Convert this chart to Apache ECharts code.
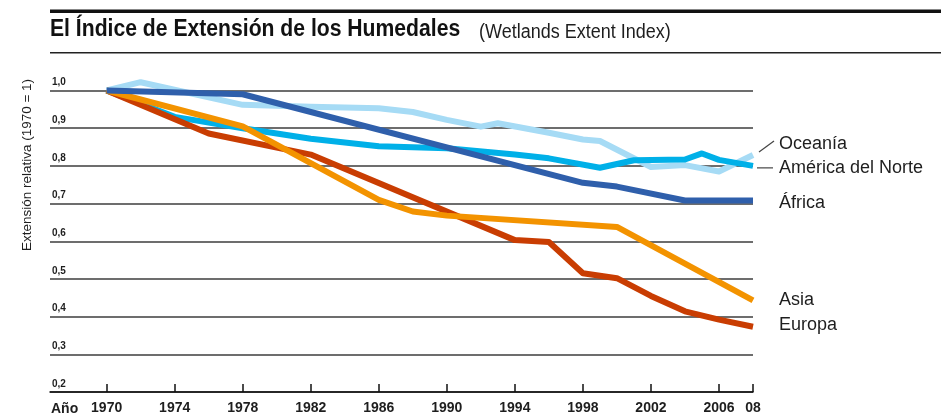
<!DOCTYPE html>
<html>
<head>
<meta charset="utf-8">
<script src="https://cdn.jsdelivr.net/npm/echarts@6.0.0/dist/echarts.min.js"></script>
<style>
html,body{margin:0;padding:0;background:#fff}
#main{width:941px;height:417px}
</style>
</head>
<body>
<div id="main"></div>
<script>
// valores (índice relativo, 1970 = 1)
const tickYears = [1970, 1974, 1978, 1982, 1986, 1990, 1994, 1998, 2002, 2006, 2008];

const oceaniaYears = [1970, 1972, 1978, 1982, 1986, 1988, 1990, 1992, 1993, 1996, 1998, 1999, 2002, 2004, 2006, 2008];
const oceaniaValues = [1.0, 1.022, 0.962, 0.957, 0.953, 0.943, 0.922, 0.904, 0.913, 0.888, 0.87, 0.866, 0.797, 0.802, 0.785, 0.829];

const americaYears = [1970, 1974, 1978, 1982, 1986, 1990, 1994, 1996, 1999, 2001, 2004, 2005, 2006, 2008];
const americaValues = [1.0, 0.93, 0.90, 0.872, 0.852, 0.847, 0.83, 0.82, 0.795, 0.815, 0.817, 0.833, 0.816, 0.80];

const africaYears = [1970, 1978, 1998, 2000, 2004, 2008];
const africaValues = [1.0, 0.99, 0.755, 0.745, 0.708, 0.708];

const asiaYears = [1970, 1978, 1986, 1988, 1990, 2000, 2008];
const asiaValues = [1.0, 0.905, 0.71, 0.679, 0.668, 0.638, 0.443];

const europaYears = [1970, 1976, 1982, 1994, 1996, 1998, 2000, 2002, 2004, 2006, 2008];
const europaValues = [1.0, 0.886, 0.83, 0.603, 0.598, 0.515, 0.502, 0.455, 0.414, 0.392, 0.373];

const FONT = '"Liberation Sans", Arial, sans-serif';
const chart = echarts.init(document.getElementById('main'));

function makeSeries(name, years, values, color, dy, z) {
    return {
        name: name,
        type: 'line',
        data: years.map((y, i) => [y, values[i]]),
        symbol: 'none',
        clip: false,
        z: z,
        lineStyle: {color: color, width: 6, join: 'round'},
        endLabel: {
            show: true,
            formatter: '{a}',
            color: '#1e1e1e',
            fontFamily: FONT,
            fontSize: 18,
            distance: 0,
            offset: [26, dy]
        }
    };
}

const option = {
    animation: false,
    grid: {left: 50, right: 188, top: 90.5, bottom: 25},
    xAxis: {
        type: 'value',
        min: 1966.67,
        max: 2008,
        axisLine: {lineStyle: {color: '#111', width: 1.5}},
        axisTick: {show: true, inside: true, length: 8, customValues: tickYears, lineStyle: {color: '#111', width: 1.5}},
        axisLabel: {
            customValues: tickYears,
            formatter: v => v === 2008 ? '08' : String(v),
            fontFamily: FONT, fontSize: 14, fontWeight: 'bold', color: '#1e1e1e', margin: 9
        },
        splitLine: {show: false}
    },
    yAxis: {
        type: 'value',
        min: 0.2,
        max: 1.0,
        interval: 0.1,
        axisLine: {show: false},
        axisTick: {show: false},
        axisLabel: {
            inside: true,
            margin: 2,
            verticalAlign: 'bottom',
            padding: [0, 0, 3, 0],
            formatter: v => v.toFixed(1).replace('.', ','),
            fontFamily: FONT, fontSize: 10, fontWeight: 'bold', color: '#1e1e1e'
        },
        splitLine: {lineStyle: {color: '#3c3c3c', width: 1.5}}
    },
    series: [
        makeSeries('Oceanía', oceaniaYears, oceaniaValues, '#a6dbf5', -11, 2),
        makeSeries('América del Norte', americaYears, americaValues, '#00b0e8', 2, 3),
        makeSeries('Europa', europaYears, europaValues, '#c93d02', -1.5, 4),
        makeSeries('Asia', asiaYears, asiaValues, '#f39300', 0, 5),
        makeSeries('África', africaYears, africaValues, '#2f5fab', 2, 6)
    ],
    graphic: [
        {id: 'topRule', type: 'rect', shape: {x: 50, y: 9.5, width: 891, height: 3.5}, style: {fill: '#111'}},
        {id: 'bottomRule', type: 'rect', shape: {x: 50, y: 52, width: 891, height: 1.5}, style: {fill: '#222'}},
        {id: 'title', type: 'text', x: 50, y: 29.5, scaleX: 0.9, style: {
            text: 'El Índice de Extensión de los Humedales', fontFamily: FONT, fontSize: 23.5, fontWeight: 'bold',
            fill: '#111', verticalAlign: 'middle'}},
        {id: 'subtitle', type: 'text', x: 479, y: 32, scaleX: 0.9, style: {
            text: '(Wetlands Extent Index)', fontFamily: FONT, fontSize: 20, fill: '#1e1e1e', verticalAlign: 'middle'}},
        {id: 'yName', type: 'text', x: 27, y: 165, rotation: Math.PI / 2, style: {
            text: 'Extensión relativa (1970 = 1)', fontFamily: FONT, fontSize: 13.5, fill: '#1e1e1e',
            align: 'center', verticalAlign: 'middle'}},
        {id: 'xName', type: 'text', x: 51, y: 409, style: {
            text: 'Año', fontFamily: FONT, fontSize: 14, fontWeight: 'bold', fill: '#1e1e1e', verticalAlign: 'middle'}}
    ]
};

chart.setOption(option);

// líneas guía de las etiquetas de Oceanía y América del Norte
const endOce = chart.convertToPixel({gridIndex: 0}, [2008, oceaniaValues[oceaniaValues.length - 1]]);
const endAme = chart.convertToPixel({gridIndex: 0}, [2008, americaValues[americaValues.length - 1]]);
chart.setOption({
    graphic: [
        {id: 'leadOce', type: 'line', shape: {x1: endOce[0] + 6, y1: endOce[1] - 3, x2: endOce[0] + 21, y2: endOce[1] - 14},
            style: {stroke: '#444', lineWidth: 1.2}},
        {id: 'leadAme', type: 'line', shape: {x1: endAme[0] + 4, y1: endAme[1] + 2, x2: endAme[0] + 20, y2: endAme[1] + 2},
            style: {stroke: '#444', lineWidth: 1.2}}
    ]
});
</script>
</body>
</html>
